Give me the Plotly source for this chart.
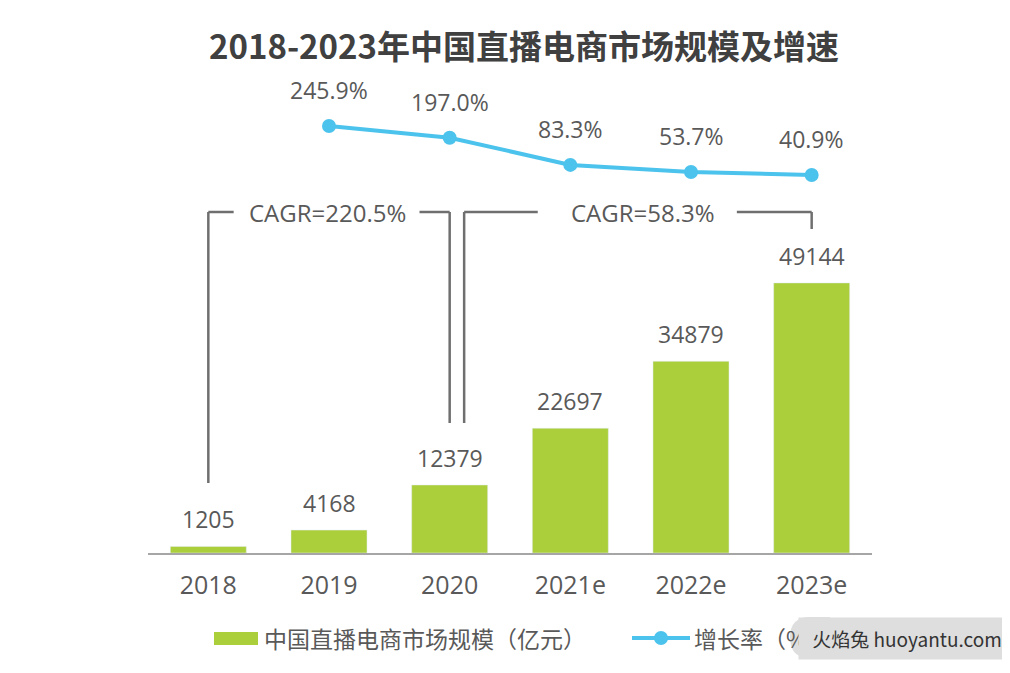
import plotly.graph_objects as go

years = ["2018", "2019", "2020", "2021e", "2022e", "2023e"]
market = [1205, 4168, 12379, 22697, 34879, 49144]
growth_years = ["2019", "2020", "2021e", "2022e", "2023e"]
growth = [245.9, 197.0, 83.3, 53.7, 40.9]
growth_labels = ["245.9%", "197.0%", "83.3%", "53.7%", "40.9%"]
cagr_labels = ["CAGR=220.5%", "CAGR=58.3%"]

title = "2018-2023年中国直播电商市场规模及增速"
legend_bar = "中国直播电商市场规模（亿元）"
legend_line = "增长率（%）"
watermark = "火焰兔 huoyantu.com"

BAR = "#ABCF3B"
LINE = "#4CC3EC"
TXT = "#595959"
GRAY = "#6f6f6f"
BADGE = "#dedede"
FONT = "Open Sans, Noto Sans CJK SC, sans-serif"
CJK = "Noto Sans CJK SC, sans-serif"

xi = list(range(len(years)))
gxi = [years.index(y) for y in growth_years]

fig = go.Figure()
fig.add_trace(go.Bar(x=xi, y=market, marker_color=BAR, width=0.63,
                     showlegend=False, hoverinfo="skip"))
fig.add_trace(go.Scatter(x=gxi, y=growth, yaxis="y2", mode="lines+markers",
                         line=dict(color=LINE, width=4),
                         marker=dict(color=LINE, size=14),
                         showlegend=False, hoverinfo="skip"))

ann = []
for x, v in zip(xi, market):
    ann.append(dict(x=x, y=v, xref="x", yref="y", text=str(v), showarrow=False,
                    yanchor="bottom", yshift=9, font=dict(size=23, color=TXT, family=FONT)))
for x, v, t in zip(gxi, growth, growth_labels):
    ann.append(dict(x=x, y=v, xref="x", yref="y2", text=t, showarrow=False,
                    yanchor="middle", yshift=36, font=dict(size=23, color=TXT, family=FONT)))


# helpers: screen pixel (reference) -> paper coords of the plot area
def py(p):
    return (553 - p) / 493.0


def px_x(p):
    return (p - 148) / 724.0


shapes = []


def seg(x0, y0, x1, y1):
    shapes.append(dict(type="line", xref="x", yref="paper", x0=x0, x1=x1,
                       y0=py(y0), y1=py(y1), line=dict(color=GRAY, width=2.5)))


# left bracket
seg(0, 483, 0, 212)
seg(0, 212, 0.21, 212)
seg(1.75, 212, 2.0, 212)
seg(2.0, 212, 2.0, 423)
# right bracket
seg(2.12, 423, 2.12, 212)
seg(2.12, 212, 2.73, 212)
seg(4.38, 212, 5.0, 212)
seg(5.0, 212, 5.0, 229)

ann.append(dict(x=0.99, y=py(212), xref="x", yref="paper", text=cagr_labels[0], showarrow=False,
                xanchor="center", yanchor="middle", font=dict(size=24, color=TXT, family=FONT)))
ann.append(dict(x=3.6, y=py(212), xref="x", yref="paper", text=cagr_labels[1], showarrow=False,
                xanchor="center", yanchor="middle", font=dict(size=24, color=TXT, family=FONT)))

# title
ann.append(dict(x=px_x(524), y=py(45), xref="paper", yref="paper", text="<b>" + title + "</b>",
                showarrow=False, xanchor="center", yanchor="middle",
                font=dict(size=33, color="#404040", family=CJK)))

# manual legend
shapes.append(dict(type="rect", xref="paper", yref="paper", x0=px_x(214), x1=px_x(258),
                   y0=py(645), y1=py(632), fillcolor=BAR, line=dict(width=0)))
ann.append(dict(x=px_x(262), y=py(638), xref="paper", yref="paper", text=legend_bar,
                showarrow=False, xanchor="left", yanchor="middle",
                font=dict(size=23, color=TXT, family=CJK)))
shapes.append(dict(type="line", xref="paper", yref="paper", x0=px_x(632), x1=px_x(690),
                   y0=py(638), y1=py(638), line=dict(color=LINE, width=4)))
shapes.append(dict(type="circle", xref="paper", yref="paper", x0=px_x(654), x1=px_x(668),
                   y0=py(645), y1=py(631), fillcolor=LINE, line=dict(width=0)))
ann.append(dict(x=px_x(692), y=py(638), xref="paper", yref="paper", text=legend_line,
                showarrow=False, xanchor="left", yanchor="middle",
                font=dict(size=23, color=TXT, family=CJK)))

# watermark badge: rounded left cap (shape) + boxed annotation covering the legend end
r = 20
x0, x1, y0, y1 = 790, 830, 617, 658
path = (f"M {px_x(x0 + r)} {py(y0)} L {px_x(x1)} {py(y0)} L {px_x(x1)} {py(y1)} "
        f"L {px_x(x0 + r)} {py(y1)} Q {px_x(x0)} {py(y1)} {px_x(x0)} {py((y0 + y1) / 2)} "
        f"Q {px_x(x0)} {py(y0)} {px_x(x0 + r)} {py(y0)} Z")
shapes.append(dict(type="path", xref="paper", yref="paper", path=path,
                   fillcolor=BADGE, line=dict(width=0)))
ann.append(dict(x=px_x(798), y=py(638), xref="paper", yref="paper", text=watermark,
                showarrow=False, xanchor="left", yanchor="middle",
                width=216, height=41, borderpad=0, bgcolor=BADGE, align="center",
                font=dict(size=19, color="#333333", family=CJK)))

# page body has an 8px margin, so the figure is 8px smaller and all offsets shift by 8
fig.update_layout(
    width=1002, height=665,
    margin=dict(l=140, r=138, t=52, b=120),
    paper_bgcolor="white", plot_bgcolor="white",
    xaxis=dict(range=[-0.5, 5.5], tickmode="array", tickvals=xi, ticktext=years,
               showline=True, linecolor="#a6a6a6", linewidth=1.5, showgrid=False,
               zeroline=False, ticks="", ticklabelstandoff=9,
               tickfont=dict(size=25, color=TXT, family=FONT), fixedrange=True),
    yaxis=dict(range=[0, 89700], visible=False, showgrid=False, fixedrange=True),
    yaxis2=dict(range=[-1540, 522], overlaying="y", visible=False, showgrid=False,
                fixedrange=True),
    annotations=ann, shapes=shapes,
    showlegend=False,
)

fig.write_html("out.html")
